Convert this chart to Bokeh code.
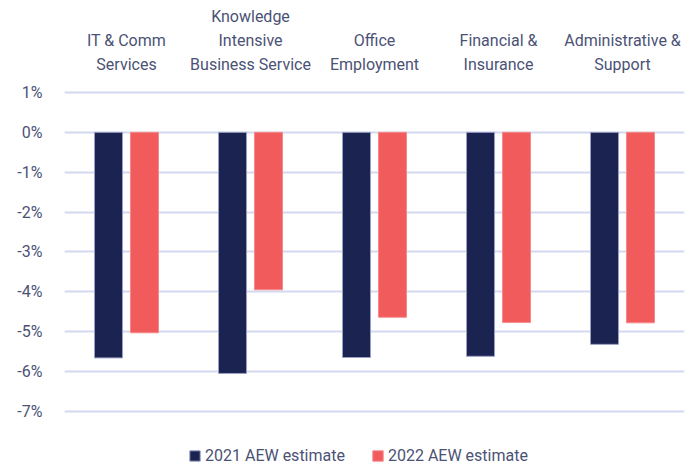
from bokeh.plotting import figure
from bokeh.models import FactorRange, Range1d, FixedTicker, CustomJSTickFormatter, Legend, LegendItem, ColumnDataSource
from bokeh.transform import dodge
from bokeh.embed import file_html
from bokeh.resources import INLINE

categories = ["IT & Comm\nServices", "Knowledge\nIntensive\nBusiness Service", "Office\nEmployment",
              "Financial &\nInsurance", "Administrative &\nSupport"]
est_2021 = [-5.66, -6.05, -5.65, -5.62, -5.32]
est_2022 = [-5.03, -3.95, -4.64, -4.77, -4.78]
y_ticks = [-7, -6, -5, -4, -3, -2, -1, 0, 1]

FONT = "Roboto"
TXT = "#4b5275"
DARK = "#1b2450"
RED = "#f25b5b"
GRID = "#d3d9f0"

src = ColumnDataSource(data=dict(cat=categories, a=est_2021, b=est_2022))

p = figure(width=689, height=465, output_backend="svg", toolbar_location=None,
           x_range=FactorRange(*categories, range_padding=0.0),
           y_range=Range1d(-8.36, 1.05), x_axis_location="above",
           min_border_left=64, min_border_right=5, min_border_bottom=0, min_border_top=90)
p.outline_line_color = None
p.background_fill_color = "white"

r1 = p.vbar(x=dodge("cat", -0.145, range=p.x_range), top=0, bottom="a", width=0.226, source=src,
            fill_color=DARK, line_color="#9aa0c4", line_width=1)
r2 = p.vbar(x=dodge("cat", 0.145, range=p.x_range), top=0, bottom="b", width=0.226, source=src,
            fill_color=RED, line_color="#f58a8a", line_width=1)

p.xgrid.grid_line_color = None
p.ygrid.grid_line_color = GRID
p.ygrid.grid_line_width = 2
p.ygrid.level = "image"

p.yaxis.ticker = FixedTicker(ticks=y_ticks)
p.yaxis.formatter = CustomJSTickFormatter(code="return tick.toFixed(0) + '%';")
for ax in (p.xaxis[0], p.yaxis[0]):
    ax.axis_line_color = None
    ax.major_tick_line_color = None
    ax.minor_tick_line_color = None
    ax.major_label_text_font = FONT
    ax.major_label_text_font_size = "16px"
    ax.major_label_text_color = TXT
p.yaxis.major_label_standoff = 16
p.xaxis.major_label_standoff = 11
p.xaxis.major_label_text_line_height = 1.24
p.xaxis.major_label_orientation = "horizontal"

legend = Legend(items=[LegendItem(label="2021 AEW estimate", renderers=[r1]),
                       LegendItem(label="2022 AEW estimate", renderers=[r2])],
                orientation="horizontal", location=(124, 0),
                border_line_color=None, background_fill_alpha=0,
                label_text_font=FONT, label_text_font_size="16px", label_text_color=TXT,
                glyph_width=13, glyph_height=13, spacing=26, padding=0, margin=0,
                label_standoff=4)
p.add_layout(legend, "center")

open("out.html", "w").write(file_html(p, INLINE))
